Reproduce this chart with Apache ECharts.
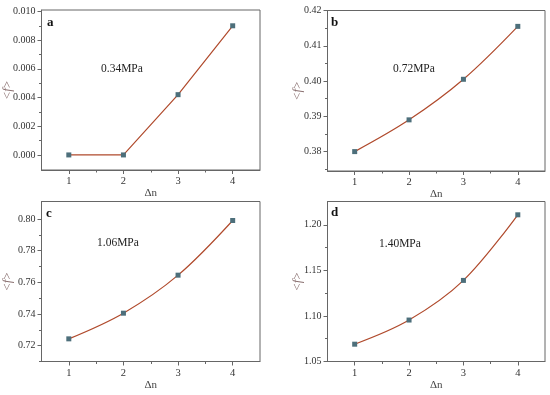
<!DOCTYPE html>
<html><head><meta charset="utf-8">
<script src="https://cdn.jsdelivr.net/npm/echarts@6/dist/echarts.min.js"></script>
<style>html,body{margin:0;padding:0;background:#fff}#c{width:550px;height:395px}</style>
</head><body><div id="c"></div>
<script>
var xValues = [1, 2, 3, 4];
var seriesA = [0.0000, 0.0000, 0.0042, 0.0090];
var seriesB = [0.3800, 0.3890, 0.4005, 0.4155];
var seriesC = [0.7243, 0.7405, 0.7645, 0.7990];
var seriesD = [1.0690, 1.0955, 1.1390, 1.2110];
var xTicks = [1, 2, 3, 4];
var xMinorTicks = [1.5, 2.5, 3.5];
var yTicksA = [0.000, 0.002, 0.004, 0.006, 0.008, 0.010];
var yMinorA = [0.001, 0.003, 0.005, 0.007, 0.009];
var yTicksB = [0.38, 0.39, 0.40, 0.41, 0.42];
var yMinorB = [0.375, 0.385, 0.395, 0.405, 0.415];
var yTicksC = [0.72, 0.74, 0.76, 0.78, 0.80];
var yMinorC = [0.71, 0.73, 0.75, 0.77, 0.79];
var yTicksD = [1.05, 1.10, 1.15, 1.20];
var yMinorD = [1.075, 1.125, 1.175];
var panelLetters = ['a', 'b', 'c', 'd'];
var pressures = ['0.34MPa', '0.72MPa', '1.06MPa', '1.40MPa'];

var FONT = 'Liberation Serif';
var AX = '#666';
var panels = [
  {grid:{left:41.5, top:10, width:218.5, height:160}, ymin:-0.00105, ymax:0.0101, ticks:yTicksA, minor:yMinorA, dec:3, data:seriesA, smooth:false, gap:27, letter:[47,16], label:[101,63]},
  {grid:{left:327.5, top:10.5, width:217.5, height:160.5}, ymin:0.3745, ymax:0.42, ticks:yTicksB, minor:yMinorB, dec:2, data:seriesB, smooth:0.35, gap:23, letter:[331,16], label:[393,63]},
  {grid:{left:41.5, top:201.5, width:218.5, height:160}, ymin:0.7100, ymax:0.811, ticks:yTicksC, minor:yMinorC, dec:2, data:seriesC, smooth:0.35, gap:27, letter:[46,207], label:[97,237]},
  {grid:{left:327.5, top:201.5, width:217.5, height:160}, ymin:1.05, ymax:1.2256, ticks:yTicksD, minor:yMinorD, dec:2, data:seriesD, smooth:0.35, gap:23, letter:[331,206], label:[379,238]}
];

var option = {animation:false, grid:[], xAxis:[], yAxis:[], series:[], graphic:[]};
panels.forEach(function(p, i){
  option.grid.push(Object.assign({show:true, borderColor:AX, borderWidth:1, backgroundColor:'transparent', containLabel:false, outerBoundsMode:'none'}, p.grid));
  option.xAxis.push({type:'value', gridIndex:i, min:0.5, max:4.5, position:'bottom',
    name:'Δn', nameLocation:'middle', nameGap:18, nameMoveOverlap:false,
    nameTextStyle:{fontFamily:FONT, fontSize:11, color:'#444', verticalAlign:'top'},
    axisLine:{show:true, onZero:false, lineStyle:{color:AX, width:1}},
    axisTick:{show:true, length:4, customValues:xTicks, lineStyle:{color:AX}},
    axisLabel:{show:true, margin:6, customValues:xTicks, fontFamily:FONT, fontSize:10.5, color:'#333', formatter:function(v){return String(Math.round(v));}},
    splitLine:{show:false}});
  option.xAxis.push({type:'value', gridIndex:i, min:0.5, max:4.5, position:'bottom',
    axisLine:{show:false, onZero:false},
    axisTick:{show:true, length:2.5, customValues:xMinorTicks, lineStyle:{color:AX}},
    axisLabel:{show:false}, splitLine:{show:false}});
  option.yAxis.push({type:'value', gridIndex:i, min:p.ymin, max:p.ymax, position:'left',
    name:'<{i|f}>', nameLocation:'middle', nameGap:p.gap, nameRotate:90, nameMoveOverlap:false,
    nameTextStyle:{fontFamily:FONT, fontSize:13, color:'#8a7070', rich:{i:{fontFamily:FONT, fontStyle:'italic', fontSize:13, color:'#8a7070'}}},
    axisLine:{show:true, onZero:false, lineStyle:{color:AX, width:1}},
    axisTick:{show:true, length:4, customValues:p.ticks, lineStyle:{color:AX}},
    axisLabel:{show:true, margin:6, customValues:p.ticks, fontFamily:FONT, fontSize:10, color:'#333', formatter:(function(d){return function(v){return v.toFixed(d);};})(p.dec)},
    splitLine:{show:false}});
  option.yAxis.push({type:'value', gridIndex:i, min:p.ymin, max:p.ymax, position:'left',
    axisLine:{show:false, onZero:false},
    axisTick:{show:true, length:2.5, customValues:p.minor, lineStyle:{color:AX}},
    axisLabel:{show:false}, splitLine:{show:false}});
  option.series.push({type:'line', xAxisIndex:2*i, yAxisIndex:2*i,
    data:xValues.map(function(x, k){return [x, p.data[k]];}),
    smooth:p.smooth, symbol:'rect', symbolSize:5,
    itemStyle:{color:'#4d6f7b'}, lineStyle:{color:'#b04a2c', width:1.2}, z:3});
  option.graphic.push({type:'text', left:p.letter[0], top:p.letter[1], style:{text:panelLetters[i], font:'bold 13px "Liberation Serif"', fill:'#111'}});
  option.graphic.push({type:'text', left:p.label[0], top:p.label[1], style:{text:pressures[i], font:'11.5px "Liberation Serif"', fill:'#222'}});
});

var chart = echarts.init(document.getElementById('c'), null, {renderer:'canvas'});
chart.setOption(option);
</script></body></html>
